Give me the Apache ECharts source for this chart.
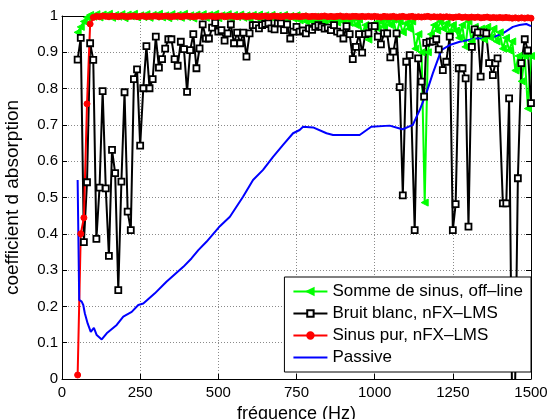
<!DOCTYPE html>
<html>
<head>
<meta charset="utf-8">
<script src="https://cdn.jsdelivr.net/npm/echarts@6/dist/echarts.min.js"></script>
<style>
html,body{margin:0;padding:0;background:#fff;overflow:hidden;}
#c{width:551px;height:419px;}
</style>
</head>
<body>
<div id="c"></div>
<script>
// ---------- DATA ----------
const xTicks = [0, 250, 500, 750, 1000, 1250, 1500];
const yTicks = [0, 0.1, 0.2, 0.3, 0.4, 0.5, 0.6, 0.7, 0.8, 0.9, 1];

const seriesNames = ['Somme de sinus, off\u2013line', 'Bruit blanc, nFX\u2013LMS', 'Sinus pur, nFX\u2013LMS', 'Passive'];

const freq10 = [50,60,70,80,90,100,110,120,130,140,150,160,170,180,190,200,210,220,230,240,
  250,260,270,280,290,300,310,320,330,340,350,360,370,380,390,400,410,420,430,440,
  450,460,470,480,490,500,510,520,530,540,550,560,570,580,590,600,610,620,630,640,
  650,660,670,680,690,700,710,720,730,740,750,760,770,780,790,800,810,820,830,840,
  850,860,870,880,890,900,910,920,930,940,950,960,970,980,990,1000,1010,1020,1030,1040,
  1050,1060,1070,1080,1090,1100,1110,1120,1130,1140,1150,1160,1170,1180,1190,1200,1210,1220,1230,1240,
  1250,1260,1270,1280,1290,1300,1310,1320,1330,1340,1350,1360,1370,1380,1390,1400,1410,1420,1430,1440,
  1450,1460,1470,1480,1490,1500];

// Somme de sinus, off-line (green), sampled at freq10
const greenVals = [0.955,0.97,0.985,0.996,1.003,0.998,1.005,0.996,1.004,0.999,
  1.006,0.995,1.003,0.998,1.005,0.994,1.004,0.999,1.006,0.996,
  1.002,0.997,1.005,0.995,1.003,0.998,1.006,0.996,1.002,0.994,
  1.005,0.998,1.003,0.995,1.006,0.997,1.002,0.993,1.004,0.998,
  1.005,0.995,1.003,0.997,1.006,0.994,1.002,0.998,1.005,0.993,
  1.003,0.997,1.004,0.995,1.002,0.992,1.003,0.996,1.004,0.99,
  1.002,0.995,1.003,0.991,1.001,0.994,1.003,0.99,1.0,0.993,
  1.002,0.988,0.999,0.985,0.996,0.984,0.998,0.986,0.995,0.983,
  0.997,0.985,0.994,0.982,0.996,0.984,0.993,0.981,0.995,0.975,
  0.99,0.95,0.975,0.935,0.97,0.98,0.965,0.985,0.97,0.988,
  0.975,0.99,0.95,0.985,0.955,0.98,0.965,0.985,0.91,0.95,
  0.9,0.486,0.9,0.95,0.975,0.96,0.985,0.965,0.98,0.955,
  0.975,0.96,0.94,0.975,0.915,0.985,0.93,0.97,0.95,0.965,
  0.935,0.97,0.94,0.965,0.93,0.955,0.91,0.94,0.905,0.93,
  0.85,0.89,0.82,0.89,0.745,0.89];

// Bruit blanc, nFX-LMS (black) — two points fall below the axis (clipped)
const blackFreq = [50,60,70,80,90,100,110,120,130,140,150,160,170,180,190,200,210,220,230,240,
  250,260,270,280,290,300,310,320,330,340,350,360,370,380,390,400,410,420,430,440,
  450,460,470,480,490,500,510,520,530,540,550,560,570,580,590,600,610,620,630,640,
  650,660,670,680,690,700,710,720,730,740,750,760,770,780,790,800,810,820,830,840,
  850,860,870,880,890,900,910,920,930,940,950,960,970,980,990,1000,1010,1020,1030,1040,
  1050,1060,1070,1080,1090,1101,1112,1128,1139,1150,1158,1165,1176,1186,1197,1205,1218,1229,1240,
  1250,1259,1269,1281,1291,1300,1311,1320,1330,1339,1348,1357,1366,1378,1386,1393,1410,1421,1430,1440,
  1448,1458,1469,1480,1490,1500];
const blackVals = [0.88,0.94,0.377,0.542,0.925,0.879,0.386,0.527,0.793,0.525,
  0.339,0.631,0.567,0.245,0.544,0.79,0.461,0.41,0.826,0.853,
  0.643,0.801,0.917,0.801,0.826,0.943,0.858,0.881,0.91,0.936,
  0.936,0.881,0.863,0.929,0.909,0.791,0.906,0.95,0.856,0.911,
  0.977,0.938,0.938,0.968,0.981,0.957,0.961,0.932,0.952,0.977,
  0.925,0.954,0.925,0.954,0.888,0.952,0.975,0.975,0.966,0.975,
  0.978,0.98,0.966,0.963,0.98,0.98,0.961,0.977,0.938,0.957,
  0.97,0.957,0.96,0.952,0.966,0.962,0.97,0.975,0.97,0.965,
  0.968,0.961,0.975,0.957,0.952,0.938,0.972,0.95,0.881,0.915,
  0.95,0.899,0.95,0.952,0.972,0.972,0.943,0.922,0.952,0.952,
  0.886,0.902,0.952,0.804,0.506,0.874,0.892,0.41,0.883,0.819,
  0.778,0.926,0.929,0.93,0.936,0.908,0.851,0.874,0.943,
  0.41,0.482,0.856,0.856,0.828,0.42,0.915,0.963,0.955,0.833,
  0.955,0.952,0.87,0.837,0.87,0.883,0.484,0.484,0.773,-0.1,
  -0.1,0.553,0.87,0.936,0.905,0.76];

// Sinus pur, nFX-LMS (red), sampled at freq10
const redVals = [0.011,0.40,0.444,0.758,0.978,0.996,0.999,0.998,1.0,0.999,
  0.998,1.0,0.999,0.998,1.0,0.999,0.998,0.999,1.0,0.998,
  0.999,1.0,0.998,0.999,0.999,1.0,0.998,0.999,1.0,0.999,
  0.998,0.999,1.0,0.998,0.999,1.0,0.999,0.998,0.999,1.0,
  0.998,0.999,1.0,0.999,0.998,0.999,1.0,0.998,0.999,1.0,
  0.999,0.998,0.999,1.0,0.998,0.999,1.0,0.999,0.998,0.999,
  1.0,0.998,0.999,1.0,0.999,0.998,0.999,1.0,0.998,0.999,
  0.999,0.998,0.999,1.0,0.998,0.999,0.999,0.998,0.999,1.0,
  0.998,0.999,0.998,0.999,1.0,0.998,0.999,0.998,0.999,0.999,
  0.998,0.999,0.998,0.999,0.998,0.999,0.998,0.997,0.999,0.998,
  0.998,0.999,0.997,0.998,0.999,0.997,0.998,0.999,0.997,0.998,
  0.997,0.998,0.999,0.997,0.998,0.997,0.998,0.997,0.998,0.997,
  0.996,0.997,0.998,0.996,0.997,0.996,0.997,0.996,0.997,0.995,
  0.996,0.997,0.995,0.996,0.995,0.996,0.995,0.996,0.995,0.994,
  0.995,0.994,0.995,0.994,0.995,0.994];

// Passive (blue)
const blueFreq = [50,55,63,68,73,82,92,102,111,127,143,175,196,223,244,260,297,334,388,414,
  436,462,505,537,579,611,643,675,707,739,760,771,803,846,867,900,952,989,1048,1080,
  1090,1122,1144,1165,1186,1213,1240,1272,1325,1378,1410,1442,1463,1485,1500];
const blueVals = [0.548,0.218,0.213,0.204,0.181,0.153,0.13,0.141,0.121,0.109,0.126,0.149,0.172,0.185,0.204,0.208,0.236,0.268,0.309,0.332,
  0.355,0.378,0.421,0.447,0.502,0.548,0.576,0.612,0.645,0.677,0.686,0.695,0.693,0.677,0.672,0.672,0.672,0.695,0.698,0.69,
  0.688,0.70,0.741,0.787,0.842,0.906,0.92,0.929,0.938,0.941,0.952,0.97,0.975,0.978,0.972];

// ---------- CHART ----------
const zip = (xs, ys) => xs.map((x, i) => [x, ys[i]]);
const FONT = 'Liberation Sans, Arial, sans-serif';
const chart = echarts.init(document.getElementById('c'), null, {renderer: 'canvas'});

const gridLine = {show: true, lineStyle: {color: '#8a8a8a', width: 1, type: [1, 2]}};
const plain = v => String(v);

chart.setOption({
  animation: false,
  backgroundColor: '#fff',
  grid: {left: 62, right: 20, top: 16, bottom: 40, containLabel: false, outerBoundsMode: 'none'},
  xAxis: [{
    type: 'value', min: xTicks[0], max: xTicks[xTicks.length - 1], interval: xTicks[1] - xTicks[0],
    name: 'fr\u00e9quence (Hz)', nameLocation: 'middle', nameGap: 5,
    nameTextStyle: {fontFamily: FONT, fontSize: 18, color: '#000', lineHeight: 18},
    axisLine: {show: true, onZero: false, lineStyle: {color: '#000', width: 1}},
    axisTick: {show: true, inside: true, length: 5, lineStyle: {color: '#000'}},
    axisLabel: {fontFamily: FONT, fontSize: 15, color: '#000', margin: 6, formatter: plain},
    splitLine: gridLine
  }, {
    type: 'value', position: 'top', min: xTicks[0], max: xTicks[xTicks.length - 1], interval: xTicks[1] - xTicks[0],
    axisLine: {show: true, onZero: false, lineStyle: {color: '#000', width: 1}},
    axisTick: {show: true, inside: true, length: 5, lineStyle: {color: '#000'}},
    axisLabel: {show: false}, splitLine: {show: false}
  }],
  yAxis: [{
    type: 'value', min: yTicks[0], max: yTicks[yTicks.length - 1], interval: yTicks[1] - yTicks[0],
    name: 'coefficient d absorption', nameLocation: 'middle', nameGap: 40, nameRotate: 90,
    nameTextStyle: {fontFamily: FONT, fontSize: 19, color: '#000'},
    axisLine: {show: true, onZero: false, lineStyle: {color: '#000', width: 1}},
    axisTick: {show: true, inside: true, length: 5, lineStyle: {color: '#000'}},
    axisLabel: {fontFamily: FONT, fontSize: 15, color: '#000', margin: 4, formatter: plain},
    splitLine: gridLine
  }, {
    type: 'value', position: 'right', min: yTicks[0], max: yTicks[yTicks.length - 1], interval: yTicks[1] - yTicks[0],
    axisLine: {show: true, onZero: false, lineStyle: {color: '#000', width: 1}},
    axisTick: {show: true, inside: true, length: 5, lineStyle: {color: '#000'}},
    axisLabel: {show: false}, splitLine: {show: false}
  }],
  legend: {
    orient: 'vertical', right: 20, bottom: 47,
    backgroundColor: '#fff', borderColor: '#000', borderWidth: 1, borderRadius: 0,
    padding: [6, 8, 6, 8], itemGap: 5, itemWidth: 34, itemHeight: 8,
    textStyle: {fontFamily: FONT, fontSize: 17, color: '#000', lineHeight: 17},
    data: [
      {name: seriesNames[0]},
      {name: seriesNames[1]},
      {name: seriesNames[2]},
      {name: seriesNames[3], itemStyle: {color: 'rgba(0,0,0,0)', borderColor: 'rgba(0,0,0,0)', borderWidth: 0}}
    ]
  },
  series: [{
    name: seriesNames[0], type: 'line', clip: false,
    data: zip(freq10, greenVals),
    symbol: 'triangle', symbolRotate: 90, symbolSize: 7, showAllSymbol: true,
    lineStyle: {color: '#00ff00', width: 2},
    itemStyle: {color: '#00ff00', borderColor: '#00ff00', borderWidth: 1}
  }, {
    name: seriesNames[1], type: 'line', clip: true,
    data: zip(blackFreq, blackVals),
    symbol: 'rect', symbolSize: 6, showAllSymbol: true,
    lineStyle: {color: '#000', width: 2},
    itemStyle: {color: '#fff', borderColor: '#000', borderWidth: 1.8}
  }, {
    name: seriesNames[2], type: 'line', clip: false,
    data: zip(freq10, redVals),
    symbol: 'circle', symbolSize: 6, showAllSymbol: true,
    lineStyle: {color: '#ff0000', width: 2},
    itemStyle: {color: '#ff0000', borderColor: '#ff0000', borderWidth: 1}
  }, {
    name: seriesNames[3], type: 'line', clip: false,
    data: zip(blueFreq, blueVals),
    showSymbol: false, symbol: 'circle', symbolSize: 1,
    lineStyle: {color: '#0000ff', width: 2},
    itemStyle: {color: '#0000ff'}
  }]
});
</script>
</body>
</html>
